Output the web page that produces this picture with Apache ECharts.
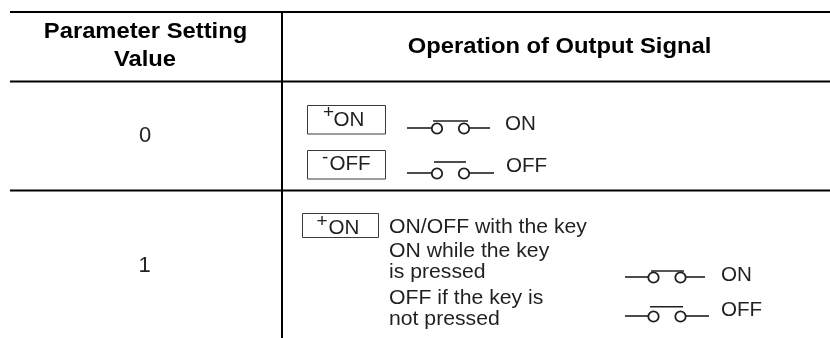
<!DOCTYPE html>
<html><head><meta charset="utf-8">
<style>html,body{margin:0;padding:0;background:#fff}#c{width:830px;height:338px}</style>
<script src="https://cdn.jsdelivr.net/npm/echarts@6/dist/echarts.min.js"></script>
</head><body><div id="c"></div>
<script>
const headerLeft = ['Parameter Setting', 'Value'];
const headerRight = ['Operation of Output Signal'];
const settingValues = ['0', '1'];
const keyLabels = ['ON', 'OFF'];
const keySigns = ['+', '-'];
const stateLabels = ['ON', 'OFF'];
const keyNotes = ['ON/OFF with the key', 'ON while the key', 'is pressed', 'OFF if the key is', 'not pressed'];

const FONT = '"Liberation Sans", Arial, sans-serif';
const INK = '#231f20';
const el = [];
const text = (x, y, t, size, o = {}) => el.push({type:'text', x, y, scaleX:o.sx||1, silent:true, style:{
  text:t, fill:o.fill||INK, font:`${o.bold?'bold ':''}${size}px ${FONT}`, align:o.align||'left', verticalAlign:'middle'
}});
const line = (x1,y1,x2,y2,w,c='#000') => el.push({type:'line', silent:true, shape:{x1,y1,x2,y2}, style:{stroke:c, lineWidth:w}});
const rect = (x,y,w,h) => el.push({type:'rect', silent:true, shape:{x,y,width:w,height:h}, style:{fill:'#fff', stroke:'#3a3a3a', lineWidth:1}});
const circle = (cx,cy,r) => el.push({type:'circle', silent:true, shape:{cx,cy,r}, style:{fill:'#fff', stroke:INK, lineWidth:1.8}});

// table rules
line(10,12,830,12,2); line(10,81.5,830,81.5,2); line(10,190.5,830,190.5,2); line(282,12,282,338,2);

// header + values
const H = {bold:true, align:'center', sx:1.08, fill:'#000'};
text(145.5,32,headerLeft[0],22,H);
text(145,60,headerLeft[1],22,H);
text(559.5,46.5,headerRight[0],22,H);
text(145,135.5,settingValues[0],22,{align:'center'});
text(144.5,265.5,settingValues[1],22,{align:'center'});

function key(x,y,w,h,label,sign,tx,ty,sx,sy){
  rect(x,y,w,h);
  text(sx,sy,sign,19);
  text(tx,ty,label,20,{sx:1.03});
}
key(307.5,105.5,78,28.5,keyLabels[0],keySigns[0],333.5,120,323,113);
key(307.5,150.5,78,28.5,keyLabels[1],keySigns[1],329.5,164,322,158);
key(302.5,213.5,76,24,keyLabels[0],keySigns[0],328.5,228,316.5,221.5);

function sw(x,cx,y,barY,b1,b2,endX,label,tx,ty){
  line(x,y,cx-5,y,1.6,INK);
  line(cx+32,y,endX,y,1.6,INK);
  line(b1,barY,b2,barY,1.6,INK);
  circle(cx,y+0.5,5.2);
  circle(cx+27,y+0.5,5.2);
  text(tx,ty,label,20,{sx:1.03});
}
sw(407,437,128,121,433,468,490,stateLabels[0],505,124);
sw(407,437,173,162,434,466,494,stateLabels[1],506,166);
sw(625,653.5,277,271,651,684,705,stateLabels[0],721,275.7);
sw(625,653.5,316,306.7,650,683,709,stateLabels[1],721,310);

const noteY = [227,251,272,298,319];
keyNotes.forEach((t,i)=>text(389,noteY[i],t,20,{sx:1.06}));

const chart = echarts.init(document.getElementById('c'),null,{renderer:'canvas'});
chart.setOption({animation:false, backgroundColor:'#fff', graphic:{elements:el}});
</script></body></html>
